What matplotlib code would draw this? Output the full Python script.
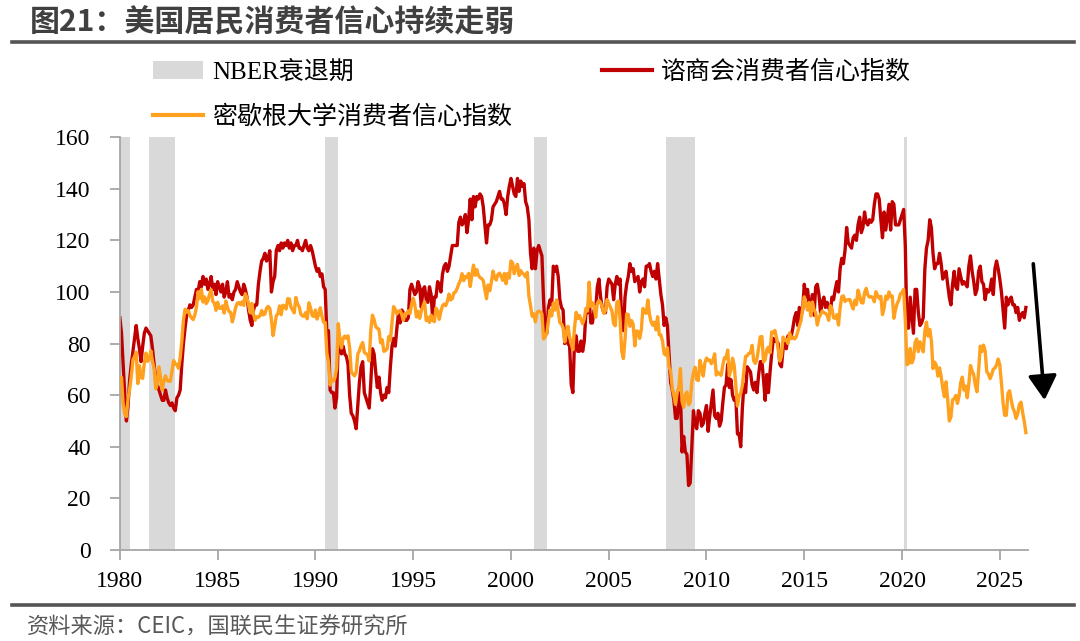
import numpy as np
import matplotlib
matplotlib.use("Agg")
import matplotlib.pyplot as plt
from matplotlib.patches import Patch
from matplotlib.lines import Line2D

# monthly index values, Jan 1980 .. May 2026
cb_index = [
    90, 84, 72, 60, 50, 56, 66, 72, 77, 82, 87, 82,            # 1980
    78, 73, 79, 84, 86, 85, 84, 83, 78, 72, 66, 64,            # 1981
    62, 60, 58, 58, 62, 59, 57, 56, 57, 55, 54, 59,            # 1982
    60, 62, 72, 80, 86, 91, 93, 95, 94, 95, 98, 101,           # 1983
    100, 104, 102, 106, 103, 105, 101, 103, 106, 101, 103, 99,  # 1984
    104, 102, 100, 103, 98, 100, 104, 98, 99, 97, 100, 101,    # 1985
    104, 102, 100, 99, 103, 101, 98, 93, 89, 87, 93, 95,       # 1986
    95, 103, 108, 112, 113, 115, 112, 113, 116, 100, 104, 106,  # 1987
    116, 118, 116, 119, 117, 119, 118, 120, 117, 119, 116, 118,  # 1988
    118, 120, 117, 117, 116, 118, 120, 117, 116, 118, 116, 113,  # 1989
    110, 108, 109, 106, 107, 102, 101, 84, 85, 62, 61, 61,     # 1990
    55, 59, 81, 79, 76, 79, 76, 75, 72, 60, 53, 52,            # 1991
    50, 47, 56, 65, 71, 73, 61, 59, 57, 55, 65, 78,            # 1992
    76, 69, 63, 67, 61, 58, 60, 59, 63, 61, 71, 79,            # 1993
    82, 79, 86, 92, 88, 93, 92, 89, 89, 90, 101, 103,          # 1994
    101, 99, 100, 104, 102, 94, 101, 102, 97, 96, 102, 99,     # 1995
    89, 98, 98, 104, 103, 100, 107, 110, 111, 108, 110, 114,   # 1996
    118, 118, 118, 118, 127, 129, 126, 127, 130, 123, 128, 136,  # 1997
    128, 137, 133, 137, 136, 138, 137, 133, 126, 119, 126, 126,  # 1998
    128, 133, 134, 135, 137, 139, 136, 136, 134, 130, 137, 141,  # 1999
    144, 141, 138, 137, 144, 139, 143, 141, 142, 135, 133, 128,  # 2000
    115, 109, 117, 109, 116, 118, 116, 114, 97, 85, 84, 94,    # 2001
    97, 95, 110, 108, 110, 106, 97, 94, 93, 80, 84, 80,        # 2002
    79, 64, 61, 81, 83, 77, 77, 81, 77, 81, 92, 92,            # 2003
    97, 88, 88, 93, 93, 102, 105, 98, 94, 92, 92, 102,         # 2004
    105, 104, 103, 97, 103, 106, 103, 105, 87, 85, 98, 103,    # 2005
    106, 111, 108, 109, 104, 105, 106, 100, 104, 105, 102, 110,  # 2006
    110, 111, 108, 106, 108, 105, 111, 105, 99, 95, 87, 90,    # 2007
    87, 76, 65, 62, 58, 51, 51, 58, 61, 38, 44, 38,            # 2008
    37, 25, 26, 40, 54, 49, 47, 54, 53, 48, 49, 53,            # 2009
    56, 46, 52, 57, 62, 52, 51, 53, 48, 50, 57, 63,            # 2010
    64, 72, 63, 66, 60, 58, 59, 45, 45, 40, 55, 64,            # 2011
    61, 71, 70, 69, 64, 62, 65, 61, 68, 73, 73, 66,            # 2012
    58, 68, 61, 69, 76, 82, 81, 81, 80, 72, 71, 78,            # 2013
    80, 78, 83, 82, 83, 86, 90, 92, 87, 94, 91, 93,            # 2014
    103, 98, 101, 95, 95, 99, 91, 102, 103, 99, 92, 96,        # 2015
    98, 94, 96, 94, 92, 98, 97, 101, 104, 100, 109, 113,       # 2016
    111, 116, 125, 119, 118, 117, 121, 122, 120, 126, 129, 123,  # 2017
    125, 131, 127, 126, 128, 127, 128, 134, 138, 138, 136, 128,  # 2018
    121, 131, 124, 129, 134, 124, 135, 134, 126, 126, 126, 128,  # 2019
    130, 132, 118, 86, 86, 98, 91, 84, 101, 101, 92, 87,       # 2020
    88, 90, 109, 117, 120, 128, 125, 115, 109, 111, 111, 115,  # 2021
    111, 105, 107, 108, 103, 98, 95, 103, 108, 102, 101, 109,  # 2022
    106, 103, 104, 103, 102, 110, 114, 108, 104, 99, 101, 108,  # 2023
    110, 104, 103, 97, 101, 100, 101, 105, 99, 109, 112, 109,  # 2024
    105, 100, 93, 86, 98, 95, 97, 98, 95, 95, 92, 94,          # 2025
    89, 91, 92, 90, 94,                                        # 2026
]

mich_index = [
    67.0, 66.9, 56.5, 52.7, 51.7, 58.7, 62.3, 67.3, 73.7, 75.0, 76.7, 64.5,    # 1980
    71.4, 66.9, 66.5, 72.4, 76.3, 73.1, 74.1, 77.2, 73.1, 70.3, 62.5, 64.3,    # 1981
    71.0, 66.5, 62.0, 65.5, 67.5, 65.7, 65.4, 65.4, 69.3, 73.4, 72.1, 71.9,    # 1982
    70.4, 74.6, 80.8, 89.1, 93.3, 92.2, 92.8, 90.9, 89.9, 89.3, 91.1, 94.2,    # 1983
    100.1, 97.4, 101.0, 96.1, 98.1, 95.5, 96.6, 99.1, 100.9, 96.3, 95.7, 92.9,  # 1984
    96.0, 93.7, 93.7, 94.6, 91.8, 96.5, 94.0, 92.4, 92.1, 88.4, 90.9, 93.9,    # 1985
    95.6, 95.9, 95.1, 96.2, 94.8, 99.3, 97.7, 94.9, 91.9, 95.6, 91.4, 89.1,    # 1986
    90.4, 90.2, 90.8, 92.8, 91.1, 91.5, 93.7, 94.4, 93.6, 89.3, 83.1, 86.8,    # 1987
    90.8, 91.6, 94.6, 91.2, 94.8, 94.7, 93.4, 97.4, 97.3, 94.1, 93.0, 91.9,    # 1988
    97.9, 95.4, 94.3, 91.5, 90.7, 90.6, 92.0, 89.6, 95.8, 93.9, 90.9, 90.5,    # 1989
    93.0, 89.5, 91.3, 93.9, 90.6, 88.3, 88.2, 76.4, 72.8, 63.9, 66.0, 65.5,    # 1990
    66.8, 70.4, 87.7, 81.8, 78.3, 82.1, 82.9, 82.0, 83.0, 78.3, 69.1, 68.2,    # 1991
    67.5, 68.8, 76.0, 77.2, 79.2, 80.4, 76.6, 76.1, 75.6, 73.3, 85.3, 91.0,    # 1992
    89.3, 86.6, 85.9, 85.6, 80.3, 81.5, 77.0, 77.3, 77.9, 82.7, 81.2, 88.2,    # 1993
    94.3, 93.2, 91.5, 92.6, 92.8, 91.2, 89.0, 91.7, 91.5, 92.7, 91.6, 95.1,    # 1994
    97.6, 95.1, 90.3, 92.5, 89.8, 92.7, 94.4, 96.2, 88.9, 90.2, 88.2, 91.0,    # 1995
    89.3, 88.5, 93.7, 92.7, 89.4, 92.4, 94.7, 95.3, 94.7, 96.5, 99.2, 96.9,    # 1996
    97.4, 99.7, 100.0, 101.4, 103.2, 104.5, 107.1, 104.4, 106.0, 105.6, 107.2, 102.1,  # 1997
    106.6, 110.4, 106.5, 108.7, 106.5, 105.6, 105.2, 104.4, 100.9, 97.4, 102.7, 100.5,  # 1998
    103.9, 108.1, 105.7, 104.6, 106.8, 107.3, 106.0, 104.5, 107.2, 103.2, 107.2, 105.4,  # 1999
    112.0, 111.3, 107.1, 109.2, 110.7, 106.4, 108.3, 107.3, 106.8, 105.8, 107.6, 98.4,  # 2000
    94.7, 90.6, 91.5, 88.4, 92.0, 92.6, 92.4, 91.5, 81.8, 82.7, 83.9, 88.8,    # 2001
    93.0, 90.7, 95.7, 93.0, 96.9, 92.4, 88.1, 87.6, 86.1, 80.6, 84.2, 86.7,    # 2002
    82.4, 79.9, 77.6, 86.0, 92.1, 89.7, 90.9, 89.3, 87.7, 89.6, 93.7, 92.6,    # 2003
    103.8, 94.4, 95.8, 94.2, 90.2, 95.6, 96.7, 95.9, 94.2, 91.7, 92.8, 97.1,   # 2004
    95.5, 94.1, 92.6, 87.7, 86.9, 96.0, 96.5, 89.1, 76.9, 74.2, 81.6, 91.5,    # 2005
    91.2, 86.7, 88.9, 87.4, 79.1, 84.9, 84.7, 82.0, 85.4, 93.6, 92.1, 91.7,    # 2006
    96.9, 91.3, 88.4, 87.1, 88.3, 85.3, 90.4, 83.4, 83.4, 80.9, 76.1, 75.5,    # 2007
    78.4, 70.8, 69.5, 62.6, 59.8, 56.4, 61.2, 63.0, 70.3, 57.6, 55.3, 60.1,    # 2008
    61.2, 56.3, 57.3, 65.1, 68.7, 70.8, 66.0, 65.7, 73.5, 70.6, 67.4, 72.5,    # 2009
    74.4, 73.6, 73.6, 72.2, 73.6, 76.0, 67.8, 68.9, 68.2, 67.7, 71.6, 74.5,    # 2010
    74.2, 77.5, 67.5, 69.8, 74.3, 71.5, 63.7, 55.8, 59.5, 60.8, 63.7, 69.9,    # 2011
    75.0, 75.3, 76.2, 76.4, 79.3, 73.2, 72.3, 74.3, 78.3, 82.6, 82.7, 72.9,    # 2012
    73.8, 77.6, 78.6, 76.4, 84.5, 84.1, 85.1, 82.1, 77.5, 73.2, 75.1, 82.5,    # 2013
    81.2, 81.6, 80.0, 84.1, 81.9, 82.5, 81.8, 82.5, 84.6, 86.9, 88.8, 93.6,    # 2014
    98.1, 95.4, 93.0, 95.9, 90.7, 96.1, 93.1, 91.9, 87.2, 90.0, 91.3, 92.6,    # 2015
    92.0, 91.7, 91.0, 89.0, 94.7, 93.5, 90.0, 89.8, 91.2, 87.2, 93.8, 98.2,    # 2016
    98.5, 96.3, 96.9, 97.0, 97.1, 95.0, 93.4, 96.8, 95.1, 100.7, 98.5, 95.9,   # 2017
    95.7, 99.7, 101.4, 98.8, 98.0, 98.2, 97.9, 96.2, 100.1, 98.6, 97.5, 98.3,  # 2018
    91.2, 93.8, 98.4, 97.2, 100.0, 98.2, 98.4, 89.8, 93.2, 95.5, 96.8, 99.3,   # 2019
    99.8, 101.0, 89.1, 71.8, 72.3, 78.1, 72.5, 74.1, 80.4, 81.8, 76.9, 80.7,   # 2020
    79.0, 76.8, 84.9, 88.3, 82.9, 85.5, 81.2, 70.3, 72.8, 71.7, 67.4, 70.6,    # 2021
    67.2, 62.8, 59.4, 65.2, 58.4, 50.0, 51.5, 58.2, 58.6, 59.9, 56.8, 59.7,    # 2022
    64.9, 67.0, 62.0, 63.5, 59.0, 64.4, 71.5, 69.4, 67.9, 63.8, 61.3, 69.7,    # 2023
    79.0, 76.9, 79.4, 77.2, 69.1, 68.2, 66.4, 67.9, 70.1, 70.5, 71.8, 74.0,    # 2024
    71.7, 64.7, 57.0, 52.2, 52.2, 60.7, 61.7, 58.2, 55.1, 53.6, 51.0, 52.9,    # 2025
    56.4, 57.3, 53.3, 49.8, 45.5,                                              # 2026
]

# NBER recessions (fractional years)
rec_start = [1980.0, 1981.5, 1990.5, 2001.17, 2007.92, 2020.08]
rec_end = [1980.5, 1982.83, 1991.17, 2001.83, 2009.42, 2020.25]

years = [1980, 1985, 1990, 1995, 2000, 2005, 2010, 2015, 2020, 2025]
yticks = [0, 20, 40, 60, 80, 100, 120, 140, 160]

title = "图21：美国居民消费者信心持续走弱"
source = "资料来源：CEIC，国联民生证券研究所"

RED = "#C00000"
ORANGE = "#FFA01E"
GREY = "#D9D9D9"
serif = ["Liberation Serif", "Noto Sans CJK SC"]

t = 1980 + np.arange(len(cb_index)) / 12.0

fig = plt.figure(figsize=(10.8, 6.41), dpi=100)
ax = fig.add_axes([0.111, 0.142, 0.841, 0.644])

for s, e in zip(rec_start, rec_end):
    ax.axvspan(s, e, color=GREY, lw=0, zorder=0)

ax.plot(t, cb_index, color=RED, lw=2.4, zorder=2)
ax.plot(t, mich_index, color=ORANGE, lw=2.4, zorder=3)

ax.set_xlim(1980, 2026.45)
ax.set_ylim(0, 160)
ax.set_xticks(years)
ax.set_yticks(yticks)
for sp in ["top", "right"]:
    ax.spines[sp].set_visible(False)
for sp in ["left", "bottom"]:
    ax.spines[sp].set_color("#A6A6A6")
    ax.spines[sp].set_linewidth(1.3)
ax.tick_params(axis="both", colors="#A6A6A6", length=7, width=1.3,
               labelcolor="black", labelsize=17)
ax.tick_params(axis="y", pad=14)
ax.tick_params(axis="x", pad=8)
for lab in ax.get_xticklabels() + ax.get_yticklabels():
    lab.set_family(serif)

# downward arrow on the right
ax.annotate("", xy=(2027.3, 57), xytext=(2026.7, 112),
            arrowprops=dict(arrowstyle="-|>,head_length=0.6,head_width=0.35",
                            color="black", lw=2.6, mutation_scale=25),
            annotation_clip=False)

handles = [
    Patch(facecolor=GREY, edgecolor="none", label="NBER衰退期"),
    Line2D([], [], color=ORANGE, lw=3, label="密歇根大学消费者信心指数"),
    Line2D([], [], color=RED, lw=3, label="谘商会消费者信心指数"),
]
fig.legend(handles=handles, ncol=2, loc="upper left",
           bbox_to_anchor=(0.1417, 0.906), frameon=False,
           prop={"family": serif, "size": 18}, handlelength=2.0,
           handletextpad=0.35, columnspacing=3.6, labelspacing=0.85,
           borderpad=0, borderaxespad=0)

fig.text(0.028, 0.965, title, fontsize=21.6, fontweight="bold",
         family=["Noto Sans CJK SC"], color="#404040", va="center")
fig.add_artist(Line2D([0.011, 0.994], [0.934, 0.934], color="#555555", lw=2.6))
fig.add_artist(Line2D([0.011, 0.994], [0.056, 0.056], color="#555555", lw=2.6))
fig.text(0.025, 0.021, source, fontsize=16, family=["Noto Sans CJK SC"],
         color="#595959", va="center")

fig.savefig("out.png", dpi=100)
